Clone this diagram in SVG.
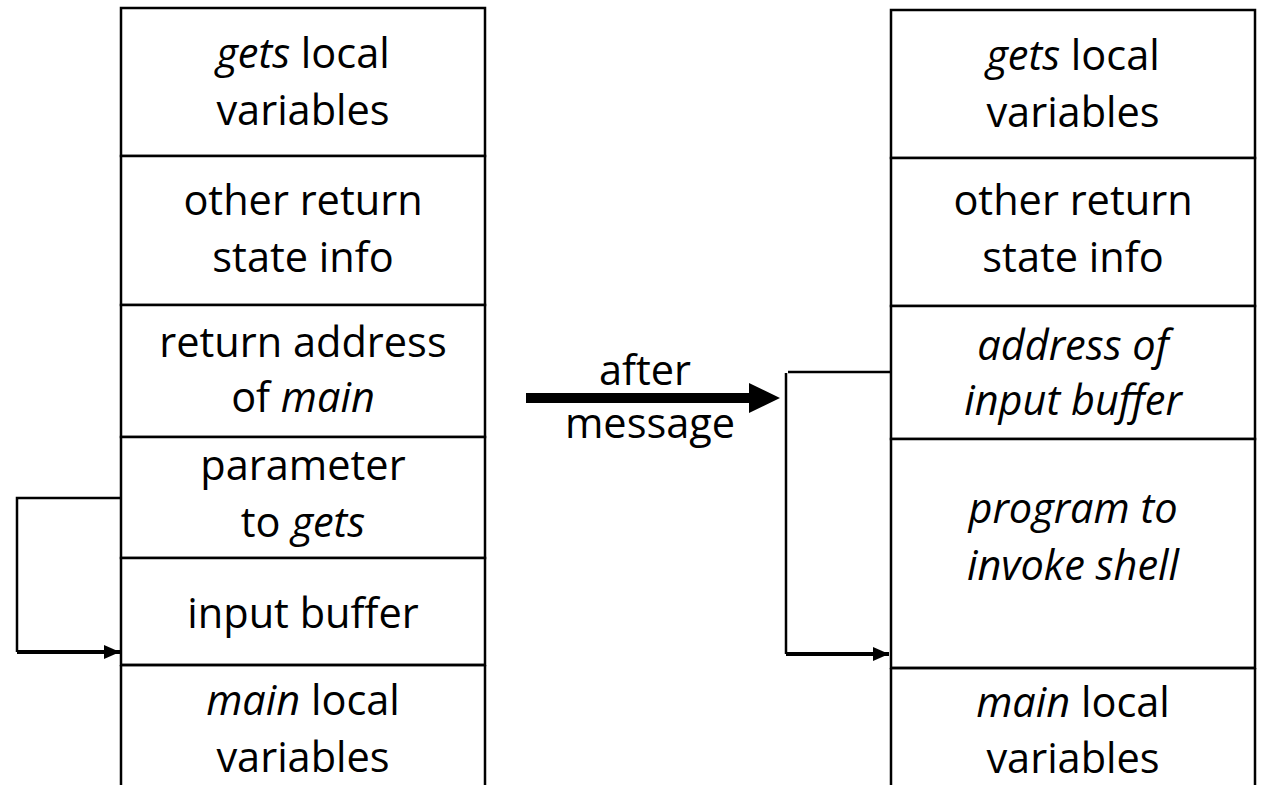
<svg xmlns="http://www.w3.org/2000/svg" width="1263" height="785" viewBox="0 0 1263 785">
<defs>
<style>
.box{fill:#fff;stroke:#000;stroke-width:2.5}
.t{font-family:"Open Sans","Liberation Sans",sans-serif;font-size:41.5px;fill:#000;text-anchor:middle}
.i{font-style:italic}
.ln{fill:none;stroke:#000;stroke-width:2.5}
.thick{fill:none;stroke:#000;stroke-width:4}
</style>
<marker id="ah" markerWidth="16" markerHeight="14" refX="16" refY="7" orient="auto" markerUnits="userSpaceOnUse"><path d="M0,0 L16,7 L0,14 Z" fill="#000"/></marker>
</defs>
<g id="left-stack">
<g id="l-gets-locals"><rect class="box" x="121" y="8" width="364" height="148"/><text class="t" x="303" y="68"><tspan class="i">gets</tspan> local</text><text class="t" x="303" y="125">variables</text></g>
<g id="l-other"><rect class="box" x="121" y="156" width="364" height="149"/><text class="t" x="303" y="215">other return</text><text class="t" x="303" y="272">state info</text></g>
<g id="l-retaddr"><rect class="box" x="121" y="305" width="364" height="132"/><text class="t" x="303" y="357">return address</text><text class="t" x="303" y="412">of <tspan class="i">main</tspan></text></g>
<g id="l-param"><rect class="box" x="121" y="437" width="364" height="121"/><text class="t" x="303" y="480">parameter</text><text class="t" x="303" y="537">to <tspan class="i">gets</tspan></text></g>
<g id="l-buffer"><rect class="box" x="121" y="558" width="364" height="107"/><text class="t" x="303" y="628">input buffer</text></g>
<g id="l-main"><path class="ln" d="M121,665 H485 M121,665 V785 M485,665 V785"/><text class="t" x="303" y="715"><tspan class="i">main</tspan> local</text><text class="t" x="303" y="772">variables</text></g>
</g>
<g id="right-stack">
<g id="r-gets-locals"><rect class="box" x="891" y="10" width="364" height="148"/><text class="t" x="1073" y="70"><tspan class="i">gets</tspan> local</text><text class="t" x="1073" y="127">variables</text></g>
<g id="r-other"><rect class="box" x="891" y="158" width="364" height="148"/><text class="t" x="1073" y="215">other return</text><text class="t" x="1073" y="272">state info</text></g>
<g id="r-addr"><rect class="box" x="891" y="306" width="364" height="133"/><text class="t i" x="1073" y="360">address of</text><text class="t i" x="1073" y="415">input buffer</text></g>
<g id="r-program"><rect class="box" x="891" y="439" width="364" height="229"/><text class="t i" x="1073" y="523">program to</text><text class="t i" x="1073" y="580">invoke shell</text></g>
<g id="r-main"><path class="ln" d="M891,668 H1255 M891,668 V785 M1255,668 V785"/><text class="t" x="1073" y="717"><tspan class="i">main</tspan> local</text><text class="t" x="1073" y="773">variables</text></g>
</g>
<g id="connectors">
<path class="ln" d="M121,498 H17 V652"/>
<path class="thick" d="M17,652 H120" marker-end="url(#ah)"/>
<path class="ln" d="M891,372 H788"/>
<path class="ln" d="M786,373 V654"/>
<path class="thick" d="M786,654 H889" marker-end="url(#ah)"/>
<path d="M526,393 H749 V383 L780,398 L749,413 V403 H526 Z" fill="#000"/>
<text class="t" x="645" y="385">after</text>
<text class="t" x="650" y="438">message</text>
</g>
</svg>
